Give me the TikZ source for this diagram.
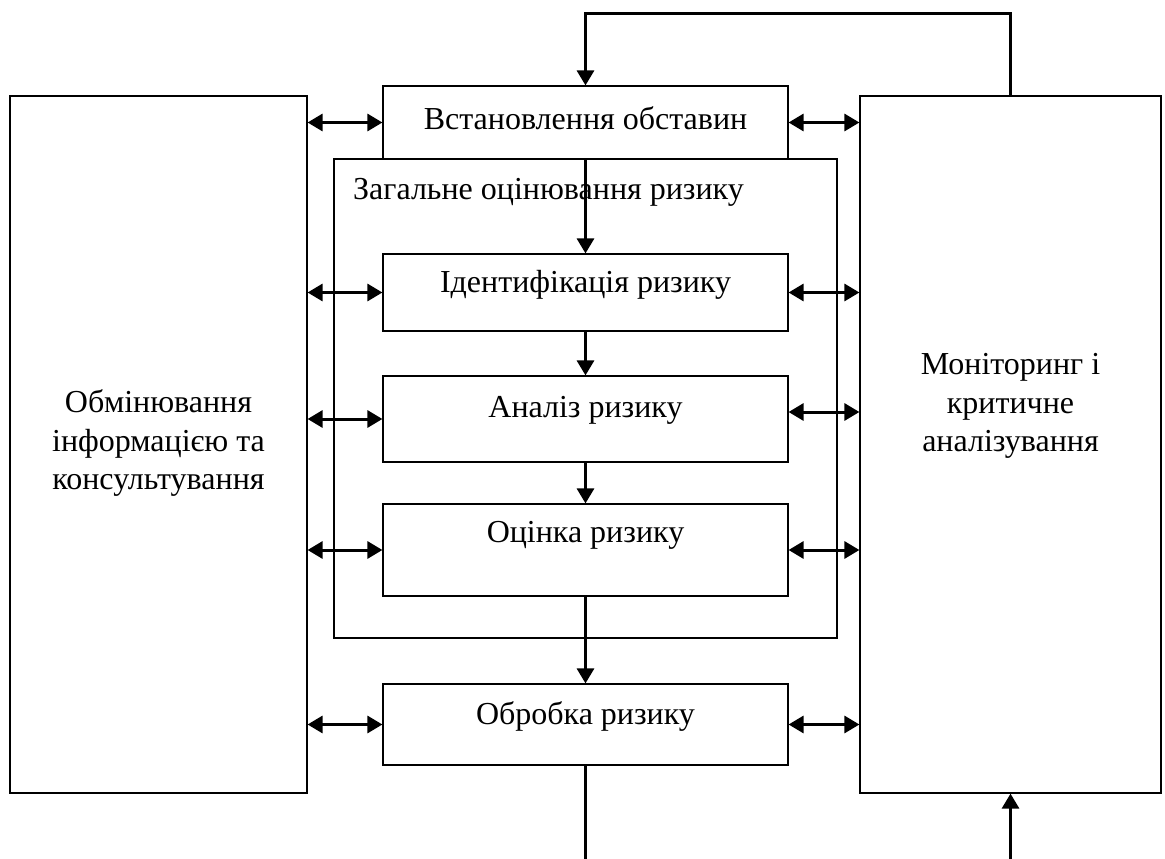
\documentclass[tikz,border=0pt]{standalone}
\usepackage{fontspec}
\setmainfont{Liberation Serif}
\usetikzlibrary{arrows.meta}
\begin{document}
\begin{tikzpicture}[x=1pt,y=-1pt,
  box/.style={draw, line width=1.2pt, fill=white, inner sep=0pt},
  lbl/.style={font=\fontsize{32}{38.5}\selectfont, align=center, inner sep=0pt},
  biarrow/.style={line width=3pt, {Triangle[length=15pt,width=17pt]}-{Triangle[length=15pt,width=17pt]}},
  flow/.style={line width=3pt, -{Triangle[length=15pt,width=17pt]}},
  plainline/.style={line width=3pt}]
\useasboundingbox (0,0) rectangle (1165,859);
\fill[white] (0,0) rectangle (1165,859);

% side boxes
\node[box, minimum width=297pt, minimum height=697pt] (L) at (158.5,444.5) {};
\node[lbl] (Ltext) at (158.5,443) {Обмінювання\\інформацією та\\консультування};
\node[box, minimum width=301pt, minimum height=697pt] (R) at (1010.5,444.5) {};
\node[lbl] (Rtext) at (1010.5,406) {Моніторинг і\\критичне\\аналізування};

% overall assessment frame
\node[box, fill=none, minimum width=503pt, minimum height=479pt] (G) at (585.5,398.5) {};
\node[lbl, anchor=west] (Gtext) at (353,192) {Загальне оцінювання ризику};

% process boxes
\node[box, minimum width=405pt, minimum height=73pt] (S) at (585.5,122.5) {};
\node[lbl] (Stext) at (585.5,118) {Встановлення обставин};
\node[box, minimum width=405pt, minimum height=77pt] (I) at (585.5,292.5) {};
\node[lbl] (Itext) at (585.5,285) {Ідентифікація ризику};
\node[box, minimum width=405pt, minimum height=86pt] (A) at (585.5,419) {};
\node[lbl] (Atext) at (585.5,410) {Аналіз ризику};
\node[box, minimum width=405pt, minimum height=92pt] (O) at (585.5,550) {};
\node[lbl] (Otext) at (585.5,535) {Оцінка ризику};
\node[box, minimum width=405pt, minimum height=81pt] (T) at (585.5,724.5) {};
\node[lbl] (Ttext) at (585.5,716) {Обробка ризику};

% two-way links
\foreach \bx in {S,I,O,T} {
  \draw[biarrow] (L.east |- \bx.west) -- (\bx.west);
  \draw[biarrow] (\bx.east) -- (R.west |- \bx.east);
}
\draw[biarrow] (L.east |- A.west) -- (A.west);
\coordinate (Ae) at ([yshift=7pt]A.east);
\draw[biarrow] (Ae) -- (R.west |- Ae);

% main flow
\draw[flow] (S.south) -- (I.north);
\draw[flow] (I.south) -- (A.north);
\draw[flow] (A.south) -- (O.north);
\draw[flow] (O.south) -- (T.north);
\coordinate (bot1) at (585.5,859);
\draw[plainline] (T.south) -- (bot1);
\coordinate (top1) at (585.5,14);
\draw[flow] (R.north) |- (top1) -- (S.north);
\coordinate (bot2) at (1010.5,859);
\draw[flow] (bot2) -- (R.south);
\end{tikzpicture}
\end{document}
